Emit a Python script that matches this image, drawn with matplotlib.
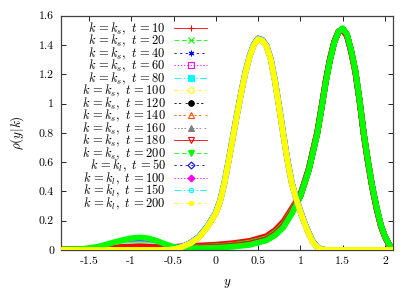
import numpy as np
import matplotlib
matplotlib.use('Agg')
import matplotlib.pyplot as plt
from matplotlib.lines import Line2D

plt.rcParams['mathtext.fontset'] = 'cm'
plt.rcParams['axes.unicode_minus'] = False
plt.rcParams['lines.scale_dashes'] = False

# grid for the k = k_s curves
x_s = [-1.83, -1.6, -1.5, -1.4, -1.3, -1.2, -1.1, -1.0, -0.9, -0.8, -0.7, -0.6, -0.5, -0.4,
       -0.2, 0.0, 0.2, 0.4, 0.6, 0.7, 0.8, 0.9,
       1.0, 1.1, 1.2, 1.25, 1.3, 1.35, 1.4, 1.45, 1.5, 1.55, 1.6, 1.65, 1.7, 1.75, 1.8,
       1.85, 1.9, 1.95, 2.0, 2.05, 2.09]

ks_10 = [0.001, 0.003, 0.005, 0.008, 0.012, 0.016, 0.019, 0.021, 0.022, 0.021, 0.019, 0.018, 0.020, 0.025,
         0.030, 0.036, 0.046, 0.062, 0.095, 0.135, 0.195, 0.285,
         0.38, 0.56, 0.81, 0.98, 1.16, 1.31, 1.42, 1.49, 1.50, 1.46, 1.35, 1.21, 1.01, 0.78, 0.59,
         0.42, 0.28, 0.165, 0.088, 0.034, 0.005]
ks_20 = [0.002, 0.004, 0.008, 0.015, 0.025, 0.037, 0.048, 0.056, 0.060, 0.056, 0.044, 0.028, 0.018, 0.017,
         0.020, 0.025, 0.034, 0.050, 0.080, 0.118, 0.175, 0.270,
         0.375, 0.555, 0.805, 0.975, 1.155, 1.305, 1.42, 1.49, 1.51, 1.47, 1.36, 1.22, 1.02, 0.79, 0.60,
         0.43, 0.29, 0.17, 0.09, 0.035, 0.005]
ks_40 = [0.001, 0.003, 0.006, 0.011, 0.019, 0.029, 0.039, 0.046, 0.050, 0.045, 0.030, 0.016, 0.013, 0.014,
         0.016, 0.020, 0.028, 0.042, 0.072, 0.108, 0.165, 0.260,
         0.37, 0.55, 0.80, 0.97, 1.15, 1.30, 1.42, 1.49, 1.51, 1.47, 1.36, 1.22, 1.02, 0.79, 0.60,
         0.43, 0.29, 0.17, 0.09, 0.035, 0.005]
ks_60 = [0.001, 0.003, 0.005, 0.010, 0.017, 0.026, 0.035, 0.042, 0.045, 0.040, 0.027, 0.015, 0.013, 0.014,
         0.016, 0.020, 0.028, 0.042, 0.072, 0.108, 0.165, 0.260,
         0.37, 0.55, 0.80, 0.97, 1.15, 1.30, 1.42, 1.49, 1.51, 1.47, 1.36, 1.22, 1.02, 0.79, 0.60,
         0.43, 0.29, 0.17, 0.09, 0.035, 0.005]
ks_80 = [0.001, 0.002, 0.005, 0.009, 0.015, 0.023, 0.031, 0.037, 0.040, 0.036, 0.025, 0.015, 0.013, 0.014,
         0.016, 0.020, 0.028, 0.042, 0.072, 0.108, 0.165, 0.260,
         0.37, 0.55, 0.80, 0.97, 1.15, 1.30, 1.42, 1.49, 1.51, 1.47, 1.36, 1.22, 1.02, 0.79, 0.60,
         0.43, 0.29, 0.17, 0.09, 0.035, 0.005]
ks_100 = [0.001, 0.002, 0.004, 0.007, 0.012, 0.018, 0.024, 0.028, 0.030, 0.028, 0.021, 0.014, 0.013, 0.014,
          0.016, 0.020, 0.028, 0.042, 0.072, 0.108, 0.165, 0.260,
          0.37, 0.55, 0.80, 0.97, 1.15, 1.30, 1.42, 1.49, 1.51, 1.47, 1.36, 1.22, 1.02, 0.79, 0.60,
          0.43, 0.29, 0.17, 0.09, 0.035, 0.005]
ks_120 = [0.001, 0.002, 0.003, 0.006, 0.009, 0.013, 0.016, 0.019, 0.020, 0.019, 0.016, 0.013, 0.013, 0.014,
          0.016, 0.020, 0.028, 0.042, 0.072, 0.108, 0.165, 0.260,
          0.37, 0.55, 0.80, 0.97, 1.15, 1.30, 1.42, 1.49, 1.51, 1.47, 1.36, 1.22, 1.02, 0.79, 0.60,
          0.43, 0.29, 0.17, 0.09, 0.035, 0.005]
ks_140 = [0.001, 0.002, 0.003, 0.006, 0.009, 0.013, 0.017, 0.019, 0.020, 0.019, 0.016, 0.013, 0.013, 0.014,
          0.016, 0.020, 0.028, 0.042, 0.072, 0.108, 0.165, 0.260,
          0.37, 0.55, 0.80, 0.97, 1.15, 1.30, 1.42, 1.49, 1.51, 1.47, 1.36, 1.22, 1.02, 0.79, 0.60,
          0.43, 0.29, 0.17, 0.09, 0.035, 0.005]
ks_160 = [0.001, 0.002, 0.004, 0.006, 0.010, 0.014, 0.017, 0.020, 0.021, 0.020, 0.017, 0.014, 0.013, 0.014,
          0.016, 0.020, 0.028, 0.042, 0.072, 0.108, 0.165, 0.260,
          0.37, 0.55, 0.80, 0.97, 1.15, 1.30, 1.42, 1.49, 1.51, 1.47, 1.36, 1.22, 1.02, 0.79, 0.60,
          0.43, 0.29, 0.17, 0.09, 0.035, 0.005]
ks_180 = [0.001, 0.002, 0.004, 0.007, 0.011, 0.016, 0.020, 0.023, 0.025, 0.023, 0.019, 0.015, 0.013, 0.014,
          0.016, 0.020, 0.028, 0.042, 0.072, 0.108, 0.165, 0.260,
          0.37, 0.55, 0.80, 0.97, 1.15, 1.30, 1.42, 1.49, 1.51, 1.47, 1.36, 1.22, 1.02, 0.79, 0.60,
          0.43, 0.29, 0.17, 0.09, 0.035, 0.005]
ks_200 = [0.002, 0.006, 0.012, 0.022, 0.036, 0.053, 0.068, 0.080, 0.085, 0.080, 0.063, 0.040, 0.022, 0.014,
          0.012, 0.015, 0.022, 0.035, 0.065, 0.100, 0.155, 0.250,
          0.365, 0.545, 0.795, 0.965, 1.145, 1.295, 1.415, 1.49, 1.515, 1.475, 1.365, 1.225, 1.025, 0.795, 0.605,
          0.435, 0.295, 0.175, 0.092, 0.036, 0.005]

# grid for the k = k_l curves
x_l = [-1.83, -0.6, -0.5, -0.4, -0.3, -0.2, -0.1, 0.0, 0.05, 0.1, 0.15, 0.2, 0.25, 0.3, 0.35,
       0.4, 0.45, 0.5, 0.55, 0.6, 0.65, 0.7, 0.75, 0.8, 0.85, 0.9, 0.95, 1.0, 1.05, 1.1,
       1.15, 1.2, 1.25, 1.3, 2.09]

kl_50 = [0.0, 0.0, 0.006, 0.022, 0.048, 0.09, 0.16, 0.255, 0.335, 0.455, 0.605, 0.765, 0.925, 1.075, 1.215,
         1.325, 1.405, 1.445, 1.435, 1.395, 1.305, 1.155, 0.975, 0.785, 0.605, 0.455, 0.355, 0.265, 0.185, 0.115,
         0.055, 0.02, 0.006, 0.0, 0.0]
kl_100 = [0.0, 0.0, 0.005, 0.021, 0.046, 0.087, 0.157, 0.252, 0.332, 0.452, 0.602, 0.762, 0.922, 1.072, 1.212,
          1.322, 1.402, 1.442, 1.432, 1.392, 1.302, 1.152, 0.972, 0.782, 0.602, 0.452, 0.352, 0.262, 0.182, 0.112,
          0.052, 0.019, 0.005, 0.0, 0.0]
kl_150 = [0.0, 0.0, 0.006, 0.021, 0.047, 0.088, 0.158, 0.253, 0.333, 0.453, 0.603, 0.763, 0.923, 1.073, 1.213,
          1.323, 1.403, 1.443, 1.433, 1.393, 1.303, 1.153, 0.973, 0.783, 0.603, 0.453, 0.353, 0.263, 0.183, 0.113,
          0.053, 0.019, 0.005, 0.0, 0.0]
kl_200 = [0.0, 0.0, 0.005, 0.02, 0.045, 0.085, 0.155, 0.25, 0.33, 0.45, 0.60, 0.76, 0.92, 1.07, 1.21,
          1.32, 1.40, 1.44, 1.43, 1.39, 1.30, 1.15, 0.97, 0.78, 0.60, 0.45, 0.35, 0.26, 0.18, 0.11,
          0.05, 0.018, 0.005, 0.0, 0.0]

ks_curves = [ks_10, ks_20, ks_40, ks_60, ks_80, ks_100, ks_120, ks_140, ks_160, ks_180, ks_200]
ks_times = [10, 20, 40, 60, 80, 100, 120, 140, 160, 180, 200]
kl_curves = [kl_50, kl_100, kl_150, kl_200]
kl_times = [50, 100, 150, 200]

xticks = [-1.5, -1, -0.5, 0, 0.5, 1, 1.5, 2]
xticklabels = ['-1.5', '-1', '-0.5', '0', '0.5', '1', '1.5', '2']
yticks = [0, 0.2, 0.4, 0.6, 0.8, 1, 1.2, 1.4, 1.6]
yticklabels = ['0', '0.2', '0.4', '0.6', '0.8', '1', '1.2', '1.4', '1.6']

# gnuplot style cycle
colors = ['#ff0000', '#00ff00', '#0000ff', '#ff00ff', '#00ffff', '#ffff00', '#000000', '#ff4d00', '#808080']
dashes = ['-', (0, (3.5, 1.8)), (0, (1.6, 2.4)), (0, (1, 1.3)), (0, (5, 1.6, 1, 1.6)),
          (0, (2.5, 2.5, 1, 2.5)), (0, (1.6, 1.6, 1.6, 3.2)), (0, (1.6, 1.6, 1.6, 1.6, 1.6, 3.2)),
          (0, (1.2, 1.2, 1.2, 1.2, 1.2, 1.2, 1.2, 2.4))]
markers = [('+', True), ('x', True), ((6, 2, 0), True), ('s', False), ('s', True), ('o', False),
           ('o', True), ('^', False), ('^', True), ('v', False), ('v', True), ('D', False),
           ('D', True), ('p', False), ('p', True)]

fig = plt.figure(figsize=(4.15, 2.91), dpi=100)
ax = fig.add_axes([0.147, 0.141, 0.799, 0.805])

handles = []
labels = []
i = 0
for ys, t in zip(ks_curves, ks_times):
    c = colors[i % 9]
    ax.plot(x_s, ys, color=c, lw=4.2, solid_joinstyle='round', zorder=2)
    m, filled = markers[i]
    handles.append(Line2D([], [], color=c, lw=0.6, ls=dashes[i % 9], marker=m, ms=4,
                          mfc=c if filled else 'none', mec=c, mew=0.8))
    labels.append(r'$k\,=k_s,\ t\,=%d$' % t)
    i += 1
for ys, t in zip(kl_curves, kl_times):
    c = colors[i % 9]
    ax.plot(x_l, ys, color=c, lw=4.2, solid_joinstyle='round', zorder=3)
    m, filled = markers[i]
    handles.append(Line2D([], [], color=c, lw=0.6, ls=dashes[i % 9], marker=m, ms=3.5,
                          mfc=c if filled else 'none', mec=c, mew=0.8))
    labels.append(r'$k\,=k_l,\ t\,=%d$' % t)
    i += 1

ax.set_xlim(-1.83, 2.09)
ax.set_ylim(0, 1.6)
ax.set_xticks(xticks)
ax.set_xticklabels(xticklabels, fontfamily='cmr10', fontsize=8.5)
ax.set_yticks(yticks)
ax.set_yticklabels(yticklabels, fontfamily='cmr10', fontsize=8.5)
ax.tick_params(direction='in', top=True, right=True, length=3.5, width=0.6, pad=5)
for s in ax.spines.values():
    s.set_linewidth(0.9)
    s.set_color('0.25')

ax.set_xlabel(r'$y$', fontsize=9.5)
ax.set_ylabel(r'$\rho(y|k)$', fontsize=9.5)
ax.xaxis.set_label_coords(0.5, -0.115)
ax.yaxis.set_label_coords(-0.105, 0.5)

leg = ax.legend(handles, labels, loc='upper right', bbox_to_anchor=(0.455, 1.0), frameon=False,
                markerfirst=False, fontsize=9.0, handlelength=2.6, handletextpad=0.7,
                labelspacing=-0.3, borderaxespad=0.2, borderpad=0.2)

fig.savefig('out.png', dpi=100)
